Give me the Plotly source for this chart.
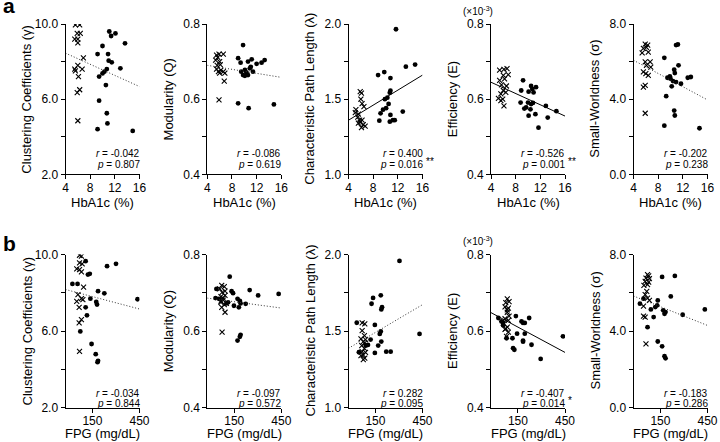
import math
import plotly.graph_objects as go

W, H = 720, 442
FONT = "Arial, Liberation Sans, sans-serif"

# ---------------- data ----------------
# row a: HbA1c (%) on x ; crosses = controls, dots = patients
a_cc_ctrl_x = [5.6, 6.3, 5.9, 6.4, 5.5, 6.0, 6.0, 6.9, 6.0, 5.5, 6.7, 5.6, 6.1, 6.3, 5.9, 6.0]
a_cc_ctrl_y = [9.95, 9.95, 9.5, 9.5, 9.2, 9.2, 9.0, 8.2, 7.8, 7.6, 7.6, 7.5, 7.2, 6.5, 6.35, 4.85]
a_cc_dm_x = [11.1, 11.4, 12.1, 10.0, 13.65, 9.2, 10.9, 11.0, 11.5, 12.9, 10.7, 10.3, 10.0, 9.45, 10.55, 9.45, 10.7, 10.8, 9.2, 14.9]
a_cc_dm_y = [9.6, 9.36, 9.5, 8.83, 8.97, 8.4, 8.4, 8.05, 7.96, 7.64, 7.6, 7.46, 7.37, 7.2, 6.75, 5.92, 5.25, 4.71, 4.4, 4.31]

a_mod_ctrl_x = [5.5, 5.9, 6.6, 5.7, 5.35, 6.0, 5.6, 6.1, 5.5, 6.2, 5.8, 6.6, 6.85, 6.0, 6.75, 5.9]
a_mod_ctrl_y = [0.717, 0.720, 0.720, 0.711, 0.704, 0.700, 0.690, 0.692, 0.680, 0.677, 0.673, 0.673, 0.669, 0.669, 0.648, 0.598]
a_mod_dm_x = [9.8, 9.0, 9.4, 10.6, 11.2, 12.0, 12.8, 13.3, 9.5, 10.1, 10.9, 10.35, 11.4, 9.8, 10.6, 11.05, 9.0, 10.7, 14.8, 10.1]
a_mod_dm_y = [0.744, 0.709, 0.697, 0.700, 0.706, 0.694, 0.697, 0.704, 0.673, 0.678, 0.682, 0.671, 0.673, 0.664, 0.664, 0.686, 0.589, 0.576, 0.586, 0.662]

a_cpl_ctrl_x = [5.9, 6.1, 6.0, 6.2, 5.2, 6.5, 5.1, 5.6, 5.5, 5.8, 6.2, 5.6, 6.4, 6.7, 6.1, 5.9]
a_cpl_ctrl_y = [1.55, 1.54, 1.50, 1.47, 1.43, 1.45, 1.41, 1.40, 1.38, 1.36, 1.36, 1.34, 1.33, 1.32, 1.31, 1.345]
a_cpl_dm_x = [11.7, 8.8, 9.8, 10.8, 13.3, 14.8, 10.8, 10.7, 9.9, 9.2, 9.6, 10.1, 10.5, 10.8, 9.0, 10.7, 11.2, 11.5, 12.8, 10.3]
a_cpl_dm_y = [1.965, 1.66, 1.68, 1.64, 1.716, 1.73, 1.556, 1.543, 1.50, 1.406, 1.43, 1.44, 1.468, 1.395, 1.357, 1.35, 1.36, 1.36, 1.417, 1.51]

a_eff_ctrl_x = [5.4, 6.1, 6.6, 6.0, 6.8, 5.4, 6.2, 5.7, 6.5, 6.0, 5.6, 6.4, 5.2, 5.9, 5.6, 6.1]
a_eff_ctrl_y = [0.677, 0.679, 0.681, 0.663, 0.665, 0.650, 0.654, 0.638, 0.635, 0.623, 0.614, 0.618, 0.602, 0.600, 0.596, 0.582]
a_eff_dm_x = [9.2, 8.9, 10.1, 10.5, 10.7, 11.3, 10.9, 8.8, 9.7, 9.4, 10.4, 10.5, 10.8, 10.1, 11.2, 13.2, 12.9, 14.6, 11.7, 10.0]
a_eff_dm_y = [0.650, 0.623, 0.620, 0.635, 0.627, 0.632, 0.618, 0.591, 0.578, 0.575, 0.573, 0.587, 0.590, 0.556, 0.560, 0.551, 0.582, 0.568, 0.524, 0.591]

a_sw_ctrl_x = [5.9, 6.3, 5.6, 6.1, 5.4, 6.4, 5.9, 6.7, 6.1, 6.8, 5.6, 6.0, 6.4, 5.9, 5.6, 5.9]
a_sw_ctrl_y = [6.93, 6.88, 6.7, 6.75, 6.46, 6.5, 5.98, 5.98, 5.8, 5.71, 5.45, 5.36, 5.27, 4.73, 4.64, 3.25]
a_sw_dm_x = [10.9, 11.2, 9.0, 11.3, 10.6, 10.7, 10.0, 9.5, 9.9, 10.4, 10.9, 11.7, 10.2, 12.8, 13.3, 9.3, 10.6, 10.7, 9.0, 14.7]
a_sw_dm_y = [6.88, 6.91, 6.2, 5.8, 5.57, 5.39, 5.09, 5.14, 5.21, 4.96, 4.91, 4.82, 4.68, 5.14, 5.18, 4.16, 3.39, 3.13, 2.59, 2.45]

# row b: FPG (mg/dL) on x
b_cc_ctrl_x = [111, 116, 111, 118, 104, 111, 116, 122, 107, 116, 120, 110, 116, 110, 111, 104]
b_cc_ctrl_y = [9.96, 9.91, 9.56, 9.51, 9.25, 9.21, 9.09, 8.29, 7.90, 7.69, 7.64, 7.24, 6.59, 6.42, 4.93, 7.55]
b_cc_dm_x = [94, 106, 128, 211, 260, 135, 141, 171, 198, 143, 164, 167, 128, 132, 113, 147, 162, 171, 169, 430]
b_cc_dm_y = [8.46, 8.46, 9.65, 9.39, 9.51, 8.95, 8.99, 8.08, 7.97, 7.69, 7.52, 7.38, 7.24, 6.82, 5.98, 5.32, 4.79, 4.44, 4.37, 7.66]

b_mod_ctrl_x = [112, 119, 107, 113, 121, 110, 116, 110, 119, 125, 112, 121, 113, 116, 110, 121]
b_mod_ctrl_y = [0.719, 0.716, 0.710, 0.701, 0.704, 0.690, 0.681, 0.678, 0.669, 0.672, 0.662, 0.649, 0.597, 0.686, 0.675, 0.693]
b_mod_dm_x = [99, 97, 105, 135, 141, 146, 125, 149, 162, 171, 174, 167, 196, 215, 262, 423, 174, 171, 162, 130]
b_mod_dm_y = [0.710, 0.686, 0.684, 0.742, 0.704, 0.699, 0.672, 0.666, 0.684, 0.679, 0.672, 0.662, 0.671, 0.707, 0.693, 0.697, 0.590, 0.585, 0.575, 0.675]

b_cpl_ctrl_x = [110, 117, 110, 107, 113, 117, 109, 116, 110, 119, 113, 107, 117, 113, 119, 116]
b_cpl_ctrl_y = [1.553, 1.547, 1.503, 1.449, 1.431, 1.422, 1.405, 1.387, 1.365, 1.361, 1.344, 1.339, 1.322, 1.313, 1.444, 1.47]
b_cpl_dm_x = [263, 137, 142, 170, 175, 172, 148, 97, 102, 120, 126, 134, 166, 170, 160, 172, 148, 193, 214, 420]
b_cpl_dm_y = [1.958, 1.678, 1.716, 1.733, 1.656, 1.641, 1.540, 1.554, 1.361, 1.405, 1.409, 1.444, 1.481, 1.497, 1.405, 1.431, 1.357, 1.365, 1.365, 1.481]

b_eff_ctrl_x = [117, 122, 113, 111, 120, 117, 122, 111, 120, 108, 117, 111, 120, 115, 113, 117]
b_eff_ctrl_y = [0.684, 0.677, 0.674, 0.663, 0.660, 0.649, 0.639, 0.632, 0.628, 0.619, 0.610, 0.604, 0.597, 0.586, 0.606, 0.655]
b_eff_dm_x = [95, 102, 106, 115, 143, 163, 169, 176, 195, 147, 132, 169, 169, 176, 134, 138, 206, 255, 429, 106]
b_eff_dm_y = [0.634, 0.625, 0.621, 0.581, 0.639, 0.625, 0.621, 0.621, 0.634, 0.593, 0.581, 0.575, 0.572, 0.593, 0.555, 0.551, 0.564, 0.527, 0.586, 0.615]

b_sw_ctrl_x = [111, 114, 107, 116, 105, 114, 102, 111, 109, 105, 111, 116, 101, 101, 105, 107]
b_sw_ctrl_y = [6.95, 6.88, 6.77, 6.74, 6.6, 6.56, 6.39, 6.42, 6.07, 5.9, 5.72, 5.6, 5.30, 4.78, 4.73, 3.33]
b_sw_dm_x = [93, 101, 111, 120, 128, 133, 139, 141, 156, 160, 169, 165, 191, 210, 252, 423, 141, 156, 165, 169]
b_sw_dm_y = [5.43, 5.69, 4.2, 5.13, 4.73, 5.25, 5.34, 5.6, 6.83, 5.08, 4.99, 4.9, 5.81, 6.88, 4.85, 5.13, 3.45, 3.2, 2.68, 2.57]

# regression lines (y at left / right end of x range)
fit_a_start = [8.45, 0.690, 1.36, 0.645, 6.07]
fit_a_end = [6.67, 0.658, 1.66, 0.555, 3.96]
fit_b_start = [8.17, 0.686, 1.387, 0.648, 5.83]
fit_b_end = [7.15, 0.660, 1.672, 0.544, 4.29]

r_a = ["-0.042", "-0.086", "0.400", "-0.526", "-0.202"]
p_a = ["0.807", "0.619", "0.016", "0.001", "0.238"]
stars_a = ["", "", "**", "**", ""]
r_b = ["-0.034", "-0.097", "0.282", "-0.407", "-0.183"]
p_b = ["0.844", "0.572", "0.095", "0.014", "0.286"]
stars_b = ["", "", "", "*", ""]

y_titles = ["Clustering Coefficients (γ)", "Modularity (Q)", "Characteristic Path Length (λ)",
            "Efficiency (E)", "Small-Worldness (σ)"]
y_ranges = [[2, 10], [0.4, 0.8], [1.0, 2.0], [0.4, 0.8], [0, 8]]
y_tickvals = [[2, 4, 6, 8, 10], [0.4, 0.5, 0.6, 0.7, 0.8], [1.0, 1.25, 1.5, 1.75, 2.0],
              [0.4, 0.5, 0.6, 0.7, 0.8], [0, 2, 4, 6, 8]]
y_ticktext = [["2.0", "", "6.0", "", "10.0"], ["0.4", "", "0.6", "", "0.8"], ["1.0", "", "1.5", "", "2.0"],
              ["0.4", "", "0.6", "", "0.8"], ["0.0", "", "4.0", "", "8.0"]]

hba1c_range = [4, 16]
hba1c_ticks = [4, 8, 12, 16]
fpg_range = [80, 450]
fpg_ticks = [150, 450]

rows = [
    dict(name="a", xtitle="HbA1c (%)", xr=hba1c_range, xt=hba1c_ticks, log=False,
         data=[(a_cc_ctrl_x, a_cc_ctrl_y, a_cc_dm_x, a_cc_dm_y),
               (a_mod_ctrl_x, a_mod_ctrl_y, a_mod_dm_x, a_mod_dm_y),
               (a_cpl_ctrl_x, a_cpl_ctrl_y, a_cpl_dm_x, a_cpl_dm_y),
               (a_eff_ctrl_x, a_eff_ctrl_y, a_eff_dm_x, a_eff_dm_y),
               (a_sw_ctrl_x, a_sw_ctrl_y, a_sw_dm_x, a_sw_dm_y)],
         f0=fit_a_start, f1=fit_a_end, r=r_a, p=p_a, s=stars_a,
         top=24, bot=174.3, r_y=153, p_y=164, xt_y=202.5, lab_y=6),
    dict(name="b", xtitle="FPG (mg/dL)", xr=fpg_range, xt=fpg_ticks, log=True,
         data=[(b_cc_ctrl_x, b_cc_ctrl_y, b_cc_dm_x, b_cc_dm_y),
               (b_mod_ctrl_x, b_mod_ctrl_y, b_mod_dm_x, b_mod_dm_y),
               (b_cpl_ctrl_x, b_cpl_ctrl_y, b_cpl_dm_x, b_cpl_dm_y),
               (b_eff_ctrl_x, b_eff_ctrl_y, b_eff_dm_x, b_eff_dm_y),
               (b_sw_ctrl_x, b_sw_ctrl_y, b_sw_dm_x, b_sw_dm_y)],
         f0=fit_b_start, f1=fit_b_end, r=r_b, p=p_b, s=stars_b,
         top=254.5, bot=407.5, r_y=393.5, p_y=403.5, xt_y=433.5, lab_y=243),
]

col_left = [65.5, 207.3, 348.5, 491, 633.5]
col_w = 74

fig = go.Figure()
layout = {}
annotations = []
axis_style = dict(showline=True, linecolor="black", linewidth=1, ticks="outside", ticklen=4,
                  tickwidth=1, tickcolor="black", showgrid=False, zeroline=False, automargin=False,
                  tickfont=dict(size=12, color="black"))

k = 0
for row in rows:
    for j in range(5):
        k += 1
        xa, ya = f"x{k}", f"y{k}"
        cx, cy, dx, dy = row["data"][j]
        fig.add_trace(go.Scatter(x=cx, y=cy, mode="markers", xaxis=xa, yaxis=ya, showlegend=False,
                                 marker=dict(symbol="x-thin", size=5, line=dict(width=1.1, color="black"))))
        fig.add_trace(go.Scatter(x=dx, y=dy, mode="markers", xaxis=xa, yaxis=ya, showlegend=False,
                                 marker=dict(symbol="circle", size=4.8, color="black")))
        sig = row["s"][j] != ""
        fig.add_trace(go.Scatter(x=row["xr"], y=[row["f0"][j], row["f1"][j]], mode="lines",
                                 xaxis=xa, yaxis=ya, showlegend=False,
                                 line=dict(color="black" if sig else "#333", width=1,
                                           dash="solid" if sig else "1px,2px")))

        x0 = col_left[j]
        x1 = x0 + col_w
        xdom = [x0 / W, x1 / W]
        ydom = [1 - row["bot"] / H, 1 - row["top"] / H]
        xr = row["xr"]
        layout[f"xaxis{k}"] = dict(axis_style, domain=xdom, anchor=ya,
                                   type="log" if row["log"] else "linear",
                                   range=[math.log10(v) for v in xr] if row["log"] else xr,
                                   tickvals=row["xt"], ticktext=[str(v) for v in row["xt"]],
                                   ticklabelstandoff=-2)
        layout[f"yaxis{k}"] = dict(axis_style, domain=ydom, anchor=xa, range=y_ranges[j],
                                   tickvals=y_tickvals[j], ticktext=y_ticktext[j])

        # axis titles
        annotations.append(dict(text=y_titles[j], xref="paper", yref="paper", x=(x0 - 39) / W,
                                y=1 - (row["top"] + row["bot"]) / 2 / H, textangle=-90, showarrow=False,
                                xanchor="center", yanchor="middle", font=dict(size=13, color="black")))
        annotations.append(dict(text=row["xtitle"], xref="paper", yref="paper", x=(x0 + x1) / 2 / W,
                                y=1 - row["xt_y"] / H, showarrow=False, xanchor="center", yanchor="middle",
                                font=dict(size=13, color="black")))
        # stats
        tx = (x1 + 2) / W
        annotations.append(dict(text=f"<i>r</i> = {row['r'][j]}", xref="paper", yref="paper", x=tx,
                                y=1 - row["r_y"] / H, showarrow=False, xanchor="right", yanchor="middle",
                                font=dict(size=10, color="black")))
        annotations.append(dict(text=f"<i>p</i> = {row['p'][j]}", xref="paper", yref="paper", x=tx,
                                y=1 - row["p_y"] / H, showarrow=False, xanchor="right", yanchor="middle",
                                font=dict(size=10, color="black")))
        if sig:
            annotations.append(dict(text=row["s"][j], xref="paper", yref="paper", x=(x1 + 1) / W,
                                    y=1 - (row["p_y"] - 3) / H, showarrow=False, xanchor="left",
                                    yanchor="middle", font=dict(size=10, color="black")))
        if j == 3:
            annotations.append(dict(text="(×10<sup>-3</sup>)", xref="paper", yref="paper", x=(x0 - 13) / W,
                                    y=1 - (row["top"] - 13) / H, showarrow=False, xanchor="center",
                                    yanchor="middle", font=dict(size=10, color="black")))
    annotations.append(dict(text=f"<b>{row['name']}</b>", xref="paper", yref="paper", x=1 / W,
                            y=1 - row["lab_y"] / H, showarrow=False, xanchor="left", yanchor="middle",
                            font=dict(size=21, color="black")))

fig.update_layout(**layout)
fig.update_layout(
    annotations=annotations,
    width=W, height=H,
    margin=dict(l=0, r=0, t=0, b=0, autoexpand=False),
    paper_bgcolor="white", plot_bgcolor="white",
    font=dict(family=FONT, color="black"),
    showlegend=False,
)

# the page body has a default 8px margin; drop it so the figure sits at 0,0
fig.write_html("out.html", config={"displayModeBar": False},
               post_script="document.body.style.margin='0px';")
